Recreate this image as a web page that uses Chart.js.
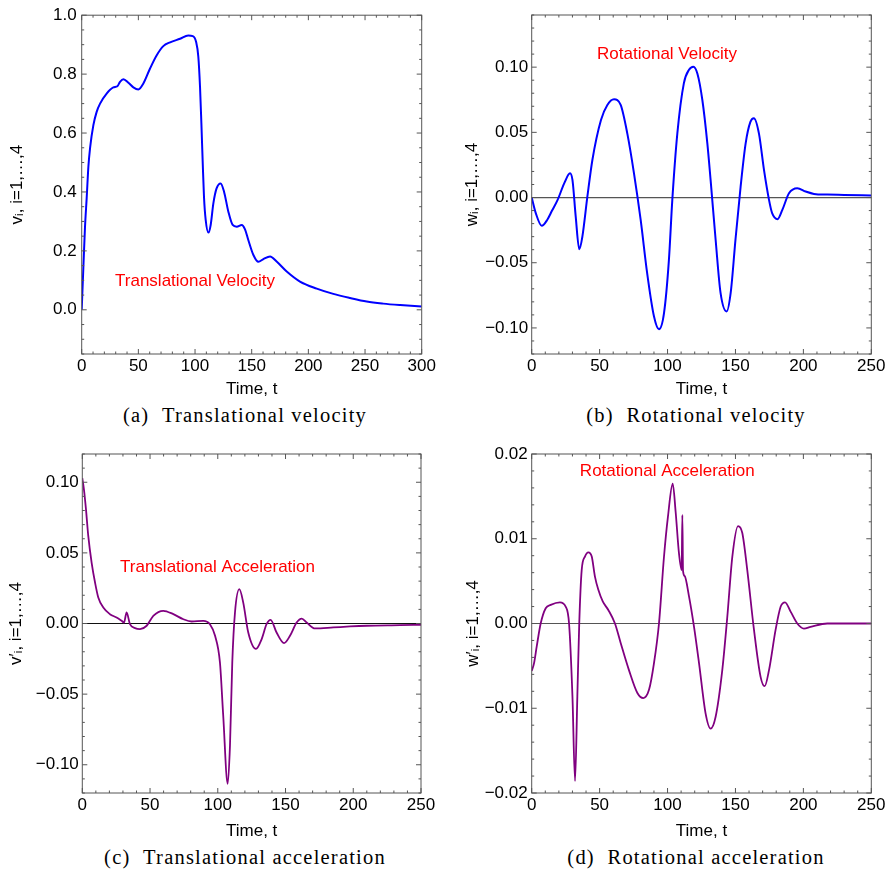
<!DOCTYPE html>
<html><head><meta charset="utf-8">
<script src="https://cdn.jsdelivr.net/npm/chart.js@4"></script>
<style>
html,body{margin:0;padding:0;background:#fff;}
#wrap{position:relative;width:888px;height:870px;overflow:hidden;background:#fff;}
canvas{position:absolute;}
.cap{position:absolute;font-family:"Liberation Serif","DejaVu Serif",serif;font-size:20.5px;letter-spacing:1.2px;color:#000;white-space:nowrap;transform:translate(-50%,-50%);line-height:1;}
</style></head>
<body><div id="wrap">
<canvas id="ca" width="444" height="400" style="left:0;top:0"></canvas>
<canvas id="cb" width="444" height="400" style="left:444px;top:0"></canvas>
<canvas id="cc" width="444" height="403" style="left:0;top:439px"></canvas>
<canvas id="cd" width="444" height="403" style="left:444px;top:439px"></canvas>
<div class="cap" style="left:245px;top:415px">(a)&nbsp;&nbsp;Translational velocity</div>
<div class="cap" style="left:696px;top:415px">(b)&nbsp;&nbsp;Rotational velocity</div>
<div class="cap" style="left:245px;top:857px">(c)&nbsp;&nbsp;Translational acceleration</div>
<div class="cap" style="left:696px;top:857px">(d)&nbsp;&nbsp;Rotational acceleration</div>
</div>
<script>
// ---- data ----
const tA = [0,1.5,2.9,4.4,5.9,7.4,10.3,13.2,16.2,22,27.9,31.5,33.8,36.8,41.2,45.6,50,54.4,60.3,66.2,72,78,86.8,94,98,100.9,102.9,104.4,105.6,106.8,107.9,109.4,111.8,113.8,116.2,119,122.6,125.6,129.4,133.2,136.8,141.2,144.1,147,151.5,155.9,160.3,166.2,172,180.9,192.6,207.4,222,236.8,251.5,266,281,300];
const vA = [0,0.147,0.28,0.38,0.486,0.55,0.627,0.672,0.70,0.734,0.755,0.759,0.774,0.783,0.771,0.755,0.748,0.768,0.819,0.864,0.895,0.908,0.92,0.931,0.929,0.91,0.859,0.757,0.633,0.497,0.384,0.305,0.262,0.288,0.362,0.412,0.429,0.401,0.333,0.288,0.282,0.288,0.273,0.237,0.186,0.163,0.172,0.181,0.164,0.13,0.096,0.072,0.054,0.04,0.028,0.021,0.016,0.011];

const tB = [0,3,7.4,11.5,15,19,24,28.2,30,32.4,35,37.3,41,44.7,51,55.7,60.6,65.5,70.4,75.3,80.2,85,90,93.7,97.4,101,103.5,107.2,112,115.8,119,122,125.6,129.3,131.7,135.4,139,143.5,146.5,150,153.8,157.5,161,163.6,167.3,171,174.7,177,181,184.5,189.4,195.5,201.7,207.8,217.6,230,250];
const wB = [0,-0.012,-0.0217,-0.017,-0.010,-0.002,0.011,0.0186,0.0135,-0.0146,-0.0396,-0.030,0.0008,0.029,0.0595,0.071,0.0753,0.071,0.049,0.0186,-0.017,-0.058,-0.091,-0.101,-0.0886,-0.048,-0.002,0.049,0.0876,0.098,0.1004,0.095,0.075,0.0416,0.0135,-0.0324,-0.073,-0.0874,-0.073,-0.0324,0.0084,0.0416,0.058,0.0608,0.049,0.0212,-0.0018,-0.012,-0.0166,-0.0095,0.0033,0.0072,0.0046,0.0028,0.0023,0.002,0.0015];

const tC = [0,1.2,2.7,4.4,6.9,9.4,11.8,15.5,20.4,25.3,29,30.8,32.7,35.2,38.9,42.6,47.5,52.4,59.8,67.2,74.6,80.7,89.3,94.2,98,101.6,104,107.3,109,110.7,112.7,115.9,118.8,122.5,128.2,132.4,136,139,143.4,148.9,153.3,158.2,162,165.6,171.8,185.3,197.6,210,234.5,250];
const aC = [0.103,0.095,0.081,0.062,0.043,0.029,0.0184,0.0113,0.0066,0.0042,0.0019,0.0007,0.0078,-0.0005,-0.0033,-0.004,-0.0016,0.0054,0.009,0.0066,0.003,0.0014,0.0019,-0.0005,-0.0087,-0.0276,-0.065,-0.1135,-0.0865,-0.0276,0.0078,0.0243,0.0148,-0.0064,-0.018,-0.011,-0.0005,0.0026,-0.0064,-0.0139,-0.0087,0.0007,0.0035,0.0007,-0.0035,-0.0028,-0.0021,-0.0016,-0.0012,-0.0009];

const tD = [0,1.7,3.7,6.6,10.3,14,20.8,25,27.5,30,31.9,33.6,35,36.8,39.2,41.7,44.2,46.6,49,52.3,56.4,61.3,65.5,71.6,77.8,82.2,86.4,90,93.7,97.4,100.3,103.8,106,108.4,110.4,110.9,111.4,112.6,115.8,119.5,123.2,128,131.7,135.4,140.3,144,147.7,151.9,155,158.7,163.6,168.5,171.5,174.7,179.6,183.3,186.5,190.6,195.5,200.4,205.3,217.6,230,250];
const aD = [-0.0056,-0.0047,-0.0027,0,0.0018,0.0022,0.0025,0.002,0,-0.0086,-0.0186,-0.0086,0,0.0063,0.0079,0.0084,0.0079,0.0055,0.004,0.0026,0.0016,0,-0.0023,-0.0055,-0.0082,-0.0088,-0.0078,-0.0047,0,0.0079,0.0126,0.0165,0.0131,0.0083,0.0063,0.0128,0.0062,0.0056,0.0032,-0.0004,-0.0047,-0.0106,-0.0124,-0.011,-0.0055,0.0008,0.0079,0.0115,0.0107,0.0063,-0.0007,-0.0063,-0.0074,-0.0055,-0.0007,0.002,0.0025,0.0014,0,-0.0006,-0.0004,0,0,0];

// tick labels
const xTicksA = [0,50,100,150,200,250,300];
const xTicks250 = [0,50,100,150,200,250];
const yTicksA = [0,0.2,0.4,0.6,0.8,1.0];
const yTicksB = [-0.10,-0.05,0,0.05,0.10];
const yTicksC = [-0.10,-0.05,0,0.05,0.10];
const yTicksD = [-0.02,-0.01,0,0.01,0.02];

// titles / labels
const xTitle = 'Time, t';
const yTitles = ['v\u1D62, i=1,\u2026,4', 'w\u1D62, i=1,\u2026,4', 'v\u2032\u1D62, i=1,\u2026,4', 'w\u2032\u1D62, i=1,\u2026,4'];
const notes = ['Translational Velocity', 'Rotational Velocity', 'Translational Acceleration', 'Rotational Acceleration'];

// ---- drawing ----
const FAM = '"Liberation Sans", Arial, sans-serif';
const fmt = d => v => (v < 0 ? '\u2212' : '') + Math.abs(v).toFixed(d);

const decor = {
  id: 'decor',
  beforeDatasetsDraw(chart, args, o) {
    const {ctx, chartArea: a, scales: {y}} = chart;
    if (o.zero) {
      ctx.save();
      ctx.strokeStyle = o.zeroColor; ctx.lineWidth = 1.2;
      const py = y.getPixelForValue(0);
      ctx.beginPath(); ctx.moveTo(a.left, py); ctx.lineTo(a.right, py); ctx.stroke();
      ctx.restore();
    }
  },
  afterDatasetsDraw(chart, args, o) {
    const {ctx, chartArea: a, scales: {x, y}} = chart;
    ctx.save();
    ctx.strokeStyle = '#555'; ctx.lineWidth = 1;
    ctx.beginPath();
    const isMaj = (v, s) => Math.abs(v / s - Math.round(v / s)) < 1e-6;
    const nx = Math.round((x.max - x.min) / o.xMinor);
    for (let i = 0; i <= nx; i++) {
      const v = x.min + i * o.xMinor;
      const len = isMaj(v, o.xMajor) ? 5 : 2.5;
      const px = x.getPixelForValue(v);
      ctx.moveTo(px, a.bottom); ctx.lineTo(px, a.bottom - len);
      ctx.moveTo(px, a.top); ctx.lineTo(px, a.top + len);
    }
    const y0 = Math.ceil(y.min / o.yMinor - 1e-6);
    const y1 = Math.floor(y.max / o.yMinor + 1e-6);
    for (let i = y0; i <= y1; i++) {
      const v = i * o.yMinor;
      const len = isMaj(v, o.yMajor) ? 5 : 2.5;
      const py = y.getPixelForValue(v);
      ctx.moveTo(a.left, py); ctx.lineTo(a.left + len, py);
      ctx.moveTo(a.right, py); ctx.lineTo(a.right - len, py);
    }
    ctx.stroke();
    ctx.strokeRect(a.left, a.top, a.width, a.height);
    ctx.fillStyle = '#ff0000';
    ctx.font = '17px ' + FAM;
    ctx.textAlign = 'center'; ctx.textBaseline = 'middle';
    ctx.fillText(o.label, x.getPixelForValue(o.lx), y.getPixelForValue(o.ly));
    ctx.restore();
  }
};

function panel(id, t, vals, o) {
  const data = t.map((tt, i) => ({x: tt, y: vals[i]}));
  return new Chart(document.getElementById(id), {
    type: 'line',
    data: {datasets: [{data, borderColor: o.color, borderWidth: o.lw, pointRadius: 0,
      cubicInterpolationMode: 'monotone', fill: false}]},
    options: {
      responsive: false, animation: false, events: [],
      layout: {padding: {left: 0, top: 15, right: o.padRight, bottom: 0}},
      plugins: {
        legend: {display: false}, tooltip: {enabled: false},
        decor: {zero: o.zero, zeroColor: o.zeroColor, xMinor: 10, xMajor: 50,
          yMinor: o.yMinor, yMajor: o.yMajor, label: o.label, lx: o.lx, ly: o.ly}
      },
      scales: {
        x: {
          type: 'linear', min: o.xMin, max: o.xMax,
          grid: {display: false, drawTicks: false}, border: {display: false},
          afterBuildTicks: s => { s.ticks = o.xTicks.map(v => ({value: v})); },
          afterFit: s => { s.height = o.xHeight; },
          ticks: {padding: 2, color: '#000', font: {family: FAM, size: 17}, maxRotation: 0, autoSkip: false,
            callback: v => String(v)},
          title: {display: true, text: xTitle, color: '#000', font: {family: FAM, size: 17}, padding: {top: 0, bottom: 0}}
        },
        y: {
          type: 'linear', min: o.yMin, max: o.yMax,
          grid: {display: false, drawTicks: false}, border: {display: false},
          afterBuildTicks: s => { s.ticks = o.yTicks.map(v => ({value: v})); },
          afterFit: s => { s.width = o.yWidth; },
          ticks: {padding: o.yPad, color: '#000', font: {family: FAM, size: 17}, autoSkip: false,
            callback: fmt(o.dec)},
          title: {display: true, text: o.yTitle, color: '#000', font: {family: FAM, size: 17},
            padding: {top: o.yTitlePad, bottom: 0}}
        }
      }
    },
    plugins: [decor]
  });
}

panel('ca', tA, vA, {color: '#0000ff', lw: 2, padRight: 22.3, yWidth: 81.7, yTitlePad: 6.8, yPad: 5, xHeight: 46,
  xMin: 0, xMax: 300, xTicks: xTicksA, yMin: -0.15, yMax: 1.0, yTicks: yTicksA, dec: 1,
  yMinor: 0.05, yMajor: 0.2, zero: false, yTitle: yTitles[0], label: notes[0], lx: 100, ly: 0.098});
panel('cb', tB, wB, {color: '#0000ff', lw: 2, padRight: 16.7, yWidth: 87.7, yTitlePad: 18.1, yPad: 3.5, xHeight: 46,
  xMin: 0, xMax: 250, xTicks: xTicks250, yMin: -0.12, yMax: 0.14, yTicks: yTicksB, dec: 2,
  yMinor: 0.01, yMajor: 0.05, zero: true, zeroColor: '#555', yTitle: yTitles[1], label: notes[1], lx: 99.6, ly: 0.110});
panel('cc', tC, aC, {color: '#800080', lw: 1.8, padRight: 23, yWidth: 82.3, yTitlePad: 6.5, yPad: 3.5, xHeight: 49,
  xMin: 0, xMax: 250, xTicks: xTicks250, yMin: -0.12, yMax: 0.12, yTicks: yTicksC, dec: 2,
  yMinor: 0.01, yMajor: 0.05, zero: true, zeroColor: '#111', yTitle: yTitles[2], label: notes[2], lx: 99.8, ly: 0.0396});
panel('cd', tD, aD, {color: '#800080', lw: 1.8, padRight: 16.7, yWidth: 87.7, yTitlePad: 19.1, yPad: 4, xHeight: 49,
  xMin: 0, xMax: 250, xTicks: xTicks250, yMin: -0.02, yMax: 0.02, yTicks: yTicksD, dec: 2,
  yMinor: 0.002, yMajor: 0.01, zero: true, zeroColor: '#555', yTitle: yTitles[3], label: notes[3], lx: 99.8, ly: 0.0179});
</script>
</body></html>
